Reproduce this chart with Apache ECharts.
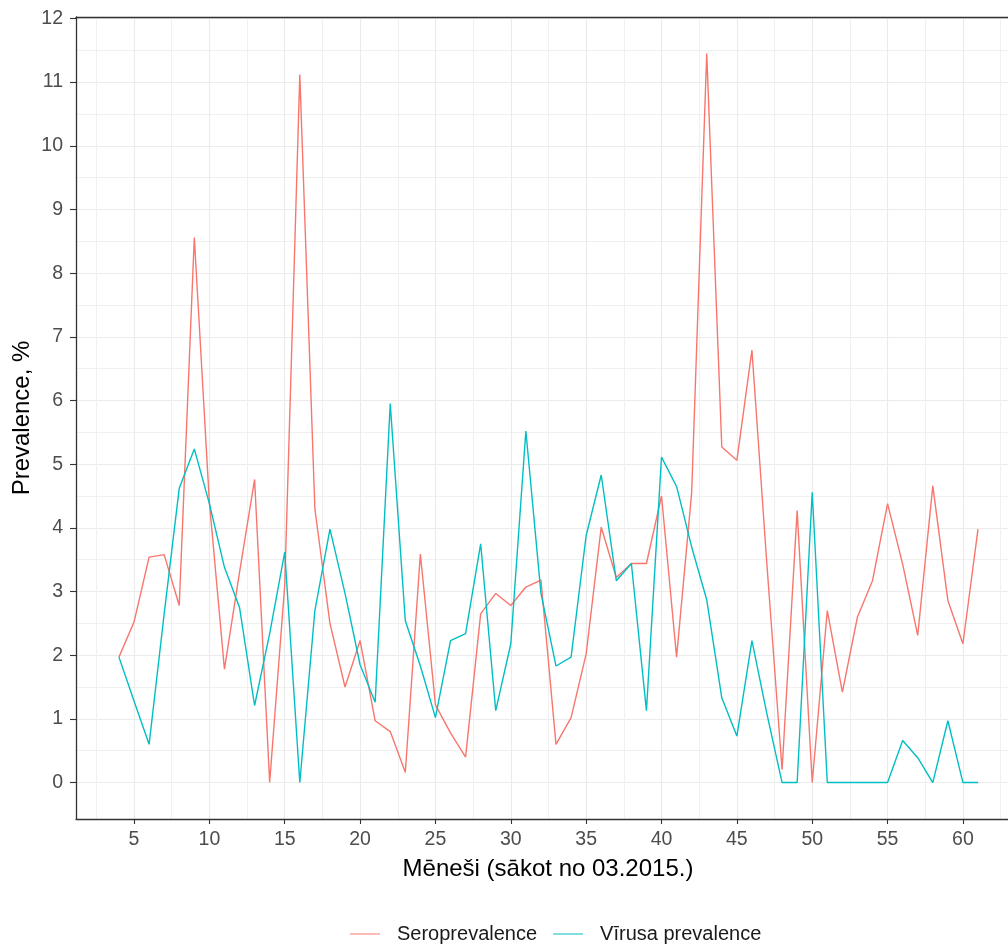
<!DOCTYPE html>
<html>
<head>
<meta charset="utf-8">
<script src="https://cdn.jsdelivr.net/npm/echarts@6/dist/echarts.min.js"></script>
<style>
  html, body { margin: 0; padding: 0; background: #fff; }
  #chart { width: 1008px; height: 945px; }
</style>
</head>
<body>
<div id="chart"></div>
<script>
// months since 03.2015
const months = [4, 5, 6, 7, 8, 9, 10, 11, 12, 13, 14, 15, 16, 17, 18, 19, 20, 21, 22, 23,
  24, 25, 26, 27, 28, 29, 30, 31, 32, 33, 34, 35, 36, 37, 38, 39, 40, 41, 42, 43,
  44, 45, 46, 47, 48, 49, 50, 51, 52, 53, 54, 55, 56, 57, 58, 59, 60, 61]

const seroprevalence = [1.97, 2.52, 3.54, 3.58, 2.78, 8.56, 4.4, 1.78, 3.3, 4.76, 0, 3.1, 11.12, 4.3, 2.5, 1.5, 2.23, 0.97, 0.8, 0.16,
  3.59, 1.22, 0.78, 0.4, 2.65, 2.97, 2.78, 3.07, 3.18, 0.6, 1.02, 2.02, 4.01, 3.22, 3.44, 3.44, 4.5, 1.97, 4.55, 11.45,
  5.27, 5.06, 6.79, 3.4, 0.2, 4.27, 0, 2.7, 1.42, 2.6, 3.17, 4.38, 3.43, 2.31, 4.66, 2.86, 2.18, 3.98]

const virusPrevalence = [1.97, 1.28, 0.6, 2.65, 4.62, 5.24, 4.38, 3.38, 2.75, 1.21, 2.34, 3.62, 0, 2.7, 3.98, 2.97, 1.85, 1.26, 5.95, 2.54,
  1.83, 1.02, 2.23, 2.34, 3.75, 1.13, 2.18, 5.52, 2.97, 1.83, 1.97, 3.88, 4.83, 3.17, 3.44, 1.13, 5.11, 4.65, 3.7, 2.87,
  1.33, 0.73, 2.23, 1.07, 0, 0, 4.56, 0, 0, 0, 0, 0, 0.66, 0.39, 0, 0.97, 0, 0]

const xTicks = [5, 10, 15, 20, 25, 30, 35, 40, 45, 50, 55, 60]
const xMinorTicks = [2.5, 7.5, 12.5, 17.5, 22.5, 27.5, 32.5, 37.5, 42.5, 47.5, 52.5, 57.5, 62.5]
const yTicks = [0, 1, 2, 3, 4, 5, 6, 7, 8, 9, 10, 11, 12]
const yMinorTicks = [0.5, 1.5, 2.5, 3.5, 4.5, 5.5, 6.5, 7.5, 8.5, 9.5, 10.5, 11.5]

const chart = echarts.init(document.getElementById('chart'))

const font = 'Liberation Sans, Arial, sans-serif'
// the panel runs past the right edge of the picture, so the axis ends where the canvas does
const xMin = 1.15
const xMax = 62.99
const yMin = -0.5725
const yMax = 12.0225

function zip(xs, ys) {
  return xs.map((x, i) => [x, ys[i]])
}

chart.setOption({
  animation: false,
  backgroundColor: '#fff',
  grid: {
    left: 76,
    top: 17,
    right: 0,
    bottom: 126,
    show: false
  },
  legend: {
    left: 350,
    top: 924,
    padding: 0,
    icon: 'path://M0,0H30V1H0Z',
    itemWidth: 30,
    itemHeight: 1.4,
    itemGap: 16,
    textStyle: {
      fontFamily: font,
      fontSize: 20,
      color: '#1a1a1a',
      padding: [0, 0, 0, 12]
    },
    data: ['Seroprevalence', 'Vīrusa prevalence']
  },
  xAxis: [
    {
      type: 'value',
      min: xMin,
      max: xMax,
      axisLine: { show: true, onZero: false, lineStyle: { color: '#333333', width: 1.3 } },
      axisTick: { show: true, length: 5, customValues: xTicks, lineStyle: { color: '#333333', width: 1.1 } },
      axisLabel: { customValues: xTicks, margin: 11, color: '#4d4d4d', fontFamily: font, fontSize: 19.5 },
      splitLine: { show: true, lineStyle: { color: '#ebebeb', width: 1.1 } }
    },
    {
      type: 'value',
      position: 'top',
      min: xMin,
      max: xMax,
      axisLine: { show: true, onZero: false, lineStyle: { color: '#333333', width: 1.3 } },
      axisTick: { show: false, customValues: xMinorTicks },
      axisLabel: { show: false, customValues: xMinorTicks },
      splitLine: { show: true, lineStyle: { color: '#f0f0f0', width: 1.1 } }
    }
  ],
  yAxis: [
    {
      type: 'value',
      min: yMin,
      max: yMax,
      axisLine: { show: true, onZero: false, lineStyle: { color: '#333333', width: 1.3 } },
      axisTick: { show: true, length: 6, customValues: yTicks, lineStyle: { color: '#333333', width: 1.1 } },
      axisLabel: { customValues: yTicks, margin: 13, color: '#4d4d4d', fontFamily: font, fontSize: 19.5 },
      splitLine: { show: true, lineStyle: { color: '#ebebeb', width: 1.1 } }
    },
    {
      type: 'value',
      position: 'left',
      min: yMin,
      max: yMax,
      axisLine: { show: false },
      axisTick: { show: false, customValues: yMinorTicks },
      axisLabel: { show: false, customValues: yMinorTicks },
      splitLine: { show: true, lineStyle: { color: '#f0f0f0', width: 1.1 } }
    }
  ],
  graphic: [
    {
      type: 'text',
      x: 548,
      y: 869,
      style: {
        text: 'Mēneši (sākot no 03.2015.)',
        fontFamily: font,
        fontSize: 24,
        fill: '#000',
        align: 'center',
        verticalAlign: 'middle'
      }
    },
    {
      type: 'text',
      x: 22,
      y: 418,
      rotation: Math.PI / 2,
      style: {
        text: 'Prevalence, %',
        fontFamily: font,
        fontSize: 24,
        fill: '#000',
        align: 'center',
        verticalAlign: 'middle'
      }
    }
  ],
  series: [
    {
      name: 'Seroprevalence',
      type: 'line',
      xAxisIndex: 0,
      yAxisIndex: 0,
      symbol: 'none',
      color: '#F8766D',
      lineStyle: { width: 1.4 },
      data: zip(months, seroprevalence)
    },
    {
      name: 'Vīrusa prevalence',
      type: 'line',
      xAxisIndex: 0,
      yAxisIndex: 0,
      symbol: 'none',
      color: '#00BFC4',
      lineStyle: { width: 1.4 },
      data: zip(months, virusPrevalence)
    }
  ]
})
</script>
</body>
</html>
